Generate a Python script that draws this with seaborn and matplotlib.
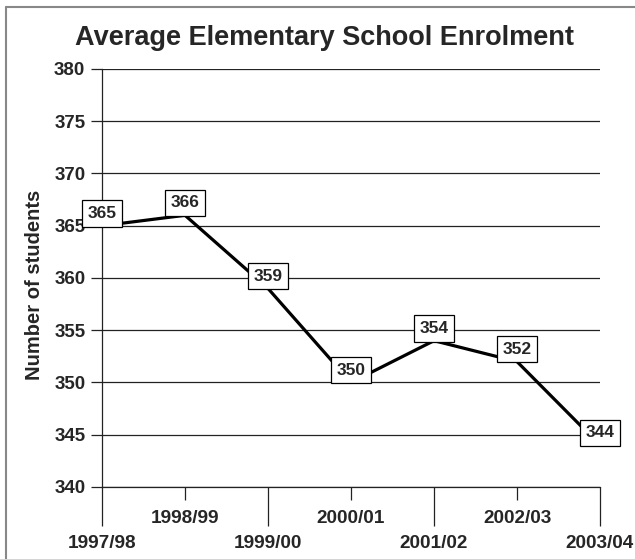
import matplotlib
matplotlib.use('Agg')
import matplotlib.pyplot as plt
from matplotlib.lines import Line2D
import pandas as pd
import seaborn as sns

# school years and average enrolment
years = ['1997/98', '1998/99', '1999/00', '2000/01', '2001/02', '2002/03', '2003/04']
students = [365, 366, 359, 350, 354, 352, 344]
y_ticks = [340, 345, 350, 355, 360, 365, 370, 375, 380]

df = pd.DataFrame({'year': years, 'students': students})

sns.set_style('white')
plt.rcParams['font.family'] = ['Liberation Sans', 'DejaVu Sans']
plt.rcParams['font.weight'] = 'bold'

fig = plt.figure(figsize=(6.35, 5.59), dpi=100)
ax = fig.add_axes([102 / 635, 72 / 559, 498 / 635, 418 / 559])

sns.lineplot(data=df, x='year', y='students', sort=False, color='black',
             linewidth=2.3, ax=ax, zorder=3)

# boxed value labels above each point
for i, v in enumerate(students):
    ax.annotate(str(v), (i, v), xytext=(0, 3.5), textcoords='offset points',
                ha='center', va='bottom', fontsize=12.5, fontweight='bold',
                bbox=dict(boxstyle='square,pad=0.33', fc='white', ec='black', lw=0.9),
                zorder=5)

ax.set_xlim(0, len(years) - 1)
ax.set_ylim(y_ticks[0], y_ticks[-1])
ax.set_yticks(y_ticks)
ax.set_yticklabels([str(t) for t in y_ticks], fontsize=13.5, fontweight='bold')
ax.yaxis.grid(True, color='#222222', linewidth=0.9)
ax.set_axisbelow(True)

# staggered x labels: long ticks for even positions, short for odd
major = list(range(0, len(years), 2))
minor = list(range(1, len(years), 2))
ax.set_xticks(major, [years[i] for i in major])
ax.set_xticks(minor, [years[i] for i in minor], minor=True)
ax.tick_params(axis='x', which='major', bottom=True, length=28, width=0.9,
               color='#222222', pad=6.5, labelsize=13.7)
ax.tick_params(axis='x', which='minor', bottom=True, length=9.5, width=0.9,
               color='#222222', pad=7, labelsize=13.7)
ax.tick_params(axis='y', length=8, width=0.9, color='#222222', pad=4, left=True)
for lab in ax.get_xticklabels(which='both'):
    lab.set_fontweight('bold')

for s in ['top', 'right']:
    ax.spines[s].set_visible(False)
for s in ['left', 'bottom']:
    ax.spines[s].set_color('#222222')
    ax.spines[s].set_linewidth(0.9)

ax.set_xlabel('')
ax.set_ylabel('Number of students', fontsize=14.5, fontweight='bold')
ax.yaxis.set_label_coords(-(102 - 44) / 498, 0.483)

fig.text(324 / 635, 1 - 45 / 559, 'Average Elementary School Enrolment',
         ha='center', va='baseline', fontsize=19.5, fontweight='bold')

# outer frame (top and left edges visible)
fig.add_artist(Line2D([6 / 635, 1], [1 - 7 / 559, 1 - 7 / 559], color='#888888', lw=1.5))
fig.add_artist(Line2D([6 / 635, 6 / 635], [0, 1 - 7 / 559], color='#888888', lw=1.5))

fig.savefig('out.png', dpi=100)
